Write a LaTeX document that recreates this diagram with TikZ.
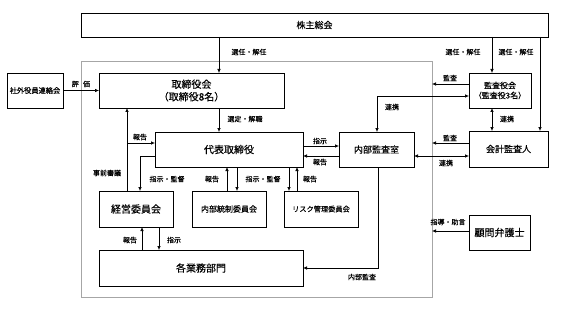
\documentclass[tikz,border=0pt]{standalone}
\usepackage{fontspec}
\setmainfont[FakeBold=0.4]{Noto Sans CJK JP}
\usetikzlibrary{arrows.meta}
\begin{document}
\begin{tikzpicture}[x=1pt,y=-1pt,
  box/.style={draw, line width=0.85pt, inner sep=0pt, outer sep=0pt, align=center},
  arr/.style={line width=0.65pt, -{Latex[length=4pt,width=3.6pt]}},
  darr/.style={line width=0.65pt, {Latex[length=4pt,width=3.6pt]}-{Latex[length=4pt,width=3.6pt]}},
  lbl/.style={font=\fontsize{7}{8}\selectfont, inner sep=0pt},
  fa/.style={font=\fontsize{10}{12.5}\selectfont},
  fb/.style={font=\fontsize{9}{11}\selectfont},
  fc/.style={font=\fontsize{8}{10}\selectfont},
  fd/.style={font=\fontsize{7.2}{9}\selectfont}]
\useasboundingbox (0,0) rectangle (567,310);
% helper coordinates
\foreach \x in {127,140,142,159,219,227,237,289,297,377,378,492,540}
  \coordinate (cx\x) at (\x,0);
\foreach \y in {84,96,143,146,156,231,268}
  \coordinate (cy\y) at (0,\y);
% outer zone
\node[draw=black!35, line width=0.8pt, minimum width=351pt, minimum height=236pt, inner sep=0pt, outer sep=0pt] (zone) at (256.5,179) {};
% boxes
\node[box, fb, minimum width=467pt, minimum height=24pt] (sh) at (314.5,25) {株主総会};
\node[box, fd, minimum width=56pt, minimum height=35pt] (ext) at (35,90.5) {社外役員連絡会};
\node[box, fa, minimum width=185pt, minimum height=35pt] (tb) at (191.5,90.5) {取締役会\\（取締役8名）};
\node[box, fa, minimum width=148pt, minimum height=35pt] (rep) at (229,149.5) {代表取締役};
\node[box, fa, minimum width=74pt, minimum height=36pt] (mgmt) at (136,209) {経営委員会};
\node[box, fc, minimum width=74pt, minimum height=36pt] (ic) at (229,209) {内部統制委員会};
\node[box, fd, minimum width=74pt, minimum height=36pt] (risk) at (321,209) {リスク管理委員会};
\node[box, fa, minimum width=204pt, minimum height=36pt] (dept) at (201,268) {各業務部門};
\node[box, fb, minimum width=75pt, minimum height=35pt] (ia) at (376.5,149.5) {内部監査室};
\node[box, fc, minimum width=62pt, minimum height=35pt] (kan) at (500,90.5) {監査役会\\（監査役3名）};
\node[box, fb, minimum width=79pt, minimum height=36pt] (acc) at (508.5,149) {会計監査人};
\node[box, fa, minimum width=61pt, minimum height=35pt] (law) at (499.5,232.5) {顧問弁護士};
% connectors
\draw[arr] (sh.south -| cx219) -- (tb.north -| cx219);
\draw[arr] (sh.south -| cx492) -- (kan.north -| cx492);
\draw[arr] (sh.south -| cx540) -- (acc.north -| cx540);
\draw[arr] (ext.east) -- (tb.west);
\draw[arr] (tb.south -| cx219) -- (rep.north -| cx219);
\draw[arr] (mgmt.north -| cx127) -- (tb.south -| cx127);
\draw[arr] (cx127 |- cy143) -- (rep.west |- cy143);
\draw[arr] (rep.west |- cy156) -| (mgmt.north -| cx140);
\draw[arr] (ic.north -| cx227) -- (rep.south -| cx227);
\draw[arr] (rep.south -| cx237) -- (ic.north -| cx237);
\draw[arr] (rep.south -| cx289) -- (risk.north -| cx289);
\draw[arr] (risk.north -| cx297) -- (rep.south -| cx297);
\draw[arr] (dept.north -| cx142) -- (mgmt.south -| cx142);
\draw[arr] (mgmt.south -| cx159) -- (dept.north -| cx159);
\draw[arr] (rep.east |- cy146) -- (ia.west |- cy146);
\draw[arr] (ia.west |- cy156) -- (rep.east |- cy156);
\draw[darr] (kan.west |- cy96) -| (ia.north -| cx377);
\draw[arr] (kan.west |- cy84) -- (zone.east |- cy84);
\draw[darr] (kan.south -| cx492) -- (acc.north -| cx492);
\draw[arr] (acc.west |- cy143) -- (zone.east |- cy143);
\draw[darr] (ia.east |- cy156) -- (acc.west |- cy156);
\draw[arr] (ia.south -| cx378) |- (dept.east |- cy268);
\draw[arr] (law.west |- cy231) -- (zone.east |- cy231);
% labels
\node[lbl] (l1) at (249,52) {選任・解任};
\node[lbl] (l2) at (463,52) {選任・解任};
\node[lbl] (l3) at (516,52) {選任・解任};
\node[lbl] (l4) at (81,84) {評\hspace{0.6em}価};
\node[lbl] (l5) at (245,119) {選定・解職};
\node[lbl] (l6) at (140,137) {報告};
\node[lbl] (l7) at (107,173) {事前審議};
\node[lbl] (l8) at (167,179) {指示・監督};
\node[lbl] (l9) at (212,179) {報告};
\node[lbl] (l10) at (263,179) {指示・監督};
\node[lbl] (l11) at (310,179) {報告};
\node[lbl] (l12) at (130,240) {報告};
\node[lbl] (l13) at (174,240) {指示};
\node[lbl] (l14) at (320,141) {指示};
\node[lbl] (l15) at (320,162) {報告};
\node[lbl] (l16) at (392,107) {連携};
\node[lbl] (l17) at (450,78) {監査};
\node[lbl] (l18) at (507,119) {連携};
\node[lbl] (l19) at (450,138) {監査};
\node[lbl] (l20) at (446,163) {連携};
\node[lbl] (l21) at (362,277) {内部監査};
\node[lbl] (l22) at (448,222) {指導・助言};
\end{tikzpicture}
\end{document}
